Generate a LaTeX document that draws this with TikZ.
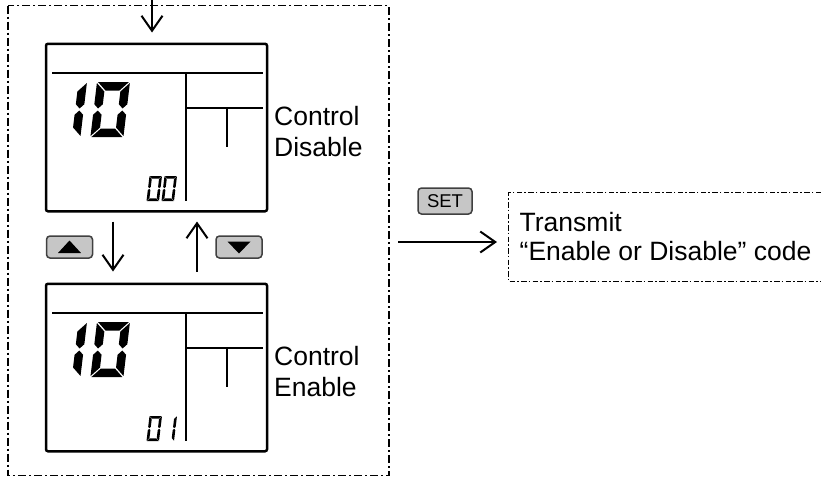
\documentclass[tikz,border=0pt]{standalone}
\usepackage{fontspec}
\setmainfont{Liberation Sans}
\usetikzlibrary{arrows.meta,positioning,calc}

% seven-segment pieces, local frame: x to the right, y downwards
\newcommand{\segA}{\fill (\dgg,0) -- ({\dgw-\dgg},0) -- ({\dgw-\dgg-\dgt},\dgt) -- ({\dgg+\dgt},\dgt) -- cycle;}
\newcommand{\segB}{\fill (\dgw,\dgg) -- ({\dgw-\dgt},{\dgt+\dgg}) -- ({\dgw-\dgt},{\dgh/2-\dgt/2-\dgg}) -- ({\dgw-\dgt/2},{\dgh/2-\dgg}) -- (\dgw,{\dgh/2-\dgt/2-\dgg}) -- cycle;}
\newcommand{\segC}{\fill (\dgw,{\dgh/2+\dgt/2+\dgg}) -- ({\dgw-\dgt/2},{\dgh/2+\dgg}) -- ({\dgw-\dgt},{\dgh/2+\dgt/2+\dgg}) -- ({\dgw-\dgt},{\dgh-\dgt-\dgg}) -- (\dgw,{\dgh-\dgg}) -- cycle;}
\newcommand{\segD}{\fill (\dgg,\dgh) -- ({\dgw-\dgg},\dgh) -- ({\dgw-\dgg-\dgt},{\dgh-\dgt}) -- ({\dgg+\dgt},{\dgh-\dgt}) -- cycle;}
\newcommand{\segE}{\fill (0,{\dgh/2+\dgt/2+\dgg}) -- ({\dgt/2},{\dgh/2+\dgg}) -- (\dgt,{\dgh/2+\dgt/2+\dgg}) -- (\dgt,{\dgh-\dgt-\dgg}) -- (0,{\dgh-\dgg}) -- cycle;}
\newcommand{\segF}{\fill (0,\dgg) -- (\dgt,{\dgt+\dgg}) -- (\dgt,{\dgh/2-\dgt/2-\dgg}) -- ({\dgt/2},{\dgh/2-\dgg}) -- (0,{\dgh/2-\dgt/2-\dgg}) -- cycle;}
% #1,#2 top left corner, #3 width, #4 height, #5 stroke, #6 segments
\newcommand{\segdigit}[6]{%
  \begin{scope}[shift={(#1,#2)}, xslant=0.12]
    \def\dgw{#3}\def\dgh{#4}\def\dgt{#5}\pgfmathsetmacro\dgg{0.12*#5}
    \foreach \s in {#6} {\csname seg\s\endcsname}
  \end{scope}}

\begin{document}
\begin{tikzpicture}[x=1pt, y=-1pt, >={Straight Barb[length=15pt,width=21pt]},
    every node/.style={font=\fontsize{26.5}{31.6}\selectfont, inner sep=0pt},
    lcd/.style={draw, line width=2.5pt, rounded corners=2pt, minimum width=221pt, minimum height=167.5pt},
    keybtn/.style={draw=black!75, fill=gray!45, line width=1.5pt, rounded corners=3.5pt, minimum width=46pt, minimum height=22pt},
    flow/.style={->, line width=2pt},
    framedash/.style={line width=1.6pt, dash pattern=on 8pt off 3pt on 2pt off 3pt}]
    \useasboundingbox (0,0) rectangle (821,477);

    % outer frame
    \draw[framedash] (8,5.5) rectangle (389,475.5);

    % the two displays
    \foreach \n/\dy/\word in {lcdU/0/Disable, lcdL/240/Enable} {
        \node[lcd] (\n) at (156.5,127.5+\dy) {};
        \draw[line width=1.1pt] (52,73+\dy) -- (263,73+\dy);
        \draw[line width=1.4pt] (186,73+\dy) -- (186,201+\dy);
        \draw[line width=1.1pt] (186,108+\dy) -- (263,108+\dy);
        \draw[line width=2.2pt] (227,108+\dy) -- (227,147+\dy);
        \segdigit{54}{82+\dy}{33}{55}{8.5}{B,C}
        \segdigit{97}{82+\dy}{33}{55}{8.5}{A,B,C,D,E,F}
        \segdigit{149.5}{176+\dy}{12.5}{25}{2.6}{A,B,C,D,E,F}
        \node[anchor=west, align=left] (\n-txt) at (274,131.5+\dy) {Control\\\word};
    }
    % last small digit: 0 on top, 1 below
    \segdigit{164.5}{176}{12.5}{25}{2.6}{A,B,C,D,E,F}
    \segdigit{164.5}{416}{12.5}{25}{2.6}{B,C}

    % arrows round the displays
    \coordinate (entry) at (152,0);
    \coordinate (dnx) at (113,0);
    \coordinate (upx) at (197,0);
    \draw[flow, shorten >=10pt] (entry) -- (entry |- lcdU.north);
    \draw[flow, shorten <=9pt, shorten >=11pt] (lcdU.south -| dnx) -- (lcdL.north -| dnx);
    \draw[flow, shorten <=11pt, shorten >=9pt] (lcdL.north -| upx) -- (lcdU.south -| upx);

    % keys
    \node[keybtn] (btnUp) at (69.5,247) {};
    \fill (btnUp.center) ++(0,-6.5) -- ++(11.5,12.5) -- ++(-23,0) -- cycle;
    \node[keybtn] (btnDown) at (239,247) {};
    \fill (btnDown.center) ++(0,6.5) -- ++(11.5,-12) -- ++(-23,0) -- cycle;
    \node[keybtn, minimum width=54pt, minimum height=26pt, text=black,
        font=\fontsize{18.5}{18.5}\selectfont] (btnSet) at (445,201) {SET};

    % transmit
    \coordinate (setfrom) at (398,242);
    \coordinate (txleft) at (508,242);
    \draw[flow, shorten >=11pt] (setfrom) -- (txleft);
    \draw[line width=1.1pt, dash pattern=on 5.5pt off 2.2pt on 1.6pt off 2.2pt]
        (821,192.5) -- (508.5,192.5) -- (508.5,281.5) -- (821,281.5);
    \node[anchor=west, align=left, font=\fontsize{26.5}{28.3}\selectfont] (tx) at (519.5,236.5)
        {Transmit\\“Enable or Disable” code};
\end{tikzpicture}
\end{document}
